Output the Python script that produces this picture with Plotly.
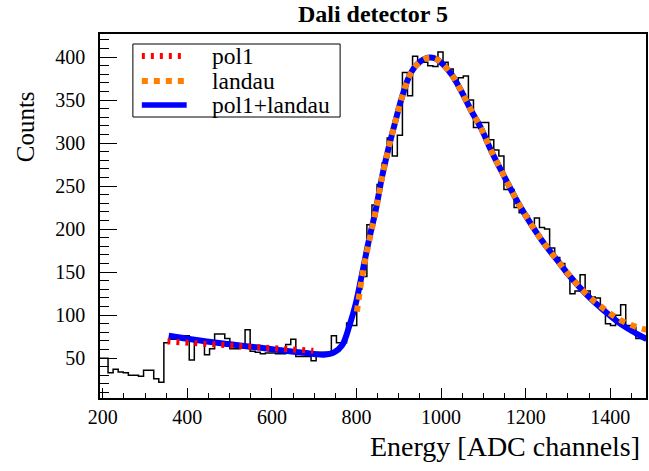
import numpy as np
import plotly.graph_objects as go

# ---------------- data ----------------
# histogram: counts per bin (bin width 12 ADC channels, first bin starts at 188.6)
bin_start = 188.6
bin_width = 12.0
counts = [
    50, 50, 33, 37, 34, 33, 30, 30, 29, 36,
    36, 26, 22, 68, 72, 72, 76, 76, 48, 70,
    70, 54, 61, 78, 78, 73, 61, 61, 62, 83,
    58, 57, 55, 56, 56, 55, 55, 66, 72, 52,
    52, 52, 47, 57, 57, 57, 76, 68, 68, 91,
    88, 130, 145, 205, 228, 252, 277, 306, 285, 309,
    382, 355, 401, 394, 394, 390, 389, 406, 394, 386,
    372, 376, 378, 350, 318, 324, 324, 304, 292, 285,
    246, 246, 225, 219, 215, 205, 213, 202, 200, 178,
    167, 160, 148, 125, 128, 147, 128, 121, 120, 108,
    90, 88, 100, 112, 88, 86, 73, 73,
]

# fit curves
pol1_x = [353, 698]
pol1_y = [69.5, 58.6]

landau_x = [801, 813, 829, 845, 860, 876, 892, 907, 923, 939, 962, 982, 1001,
            1025, 1048, 1072, 1096, 1119, 1151, 1182, 1213, 1245, 1276, 1307,
            1347, 1386, 1425, 1464, 1486]
landau_y = [104, 144, 184, 220, 259, 294.5, 325.4, 352.5, 375.7, 389.2, 398.1,
            399, 393.2, 379.6, 360.2, 337, 315.8, 290.6, 259.7, 230.7, 205.6,
            182.4, 163, 144, 123, 107, 94, 86, 83]

total_x = [356, 417, 496, 574, 652, 700, 723, 747, 766, 784, 798, 813, 829, 845,
           860, 876, 892, 907, 923, 939, 962, 982, 1001, 1025, 1048, 1072, 1096,
           1119, 1151, 1182, 1213, 1245, 1276, 1307, 1347, 1386, 1425, 1464, 1486]
total_y = [76, 71.3, 66.4, 62, 57.4, 54.8, 54, 56.7, 65, 89, 112.8, 147.6, 186.2,
           221, 259.7, 294.5, 325.4, 352.5, 375.7, 389.2, 398.1, 399, 393.2,
           379.6, 360.2, 337, 315.8, 290.6, 259.7, 230.7, 205.6, 182.4, 163,
           143.7, 122.4, 105, 89.6, 78, 72.2]

x_ticks = [200, 400, 600, 800, 1000, 1200, 1400]
y_ticks = [50, 100, 150, 200, 250, 300, 350, 400]

title_text = "Dali detector 5"
x_title = "Energy [ADC channels]"
y_title = "Counts"
legend_labels = ["pol1", "landau", "pol1+landau"]

# ---------------- styles ----------------
FONT = "Liberation Serif"
RED = "#ff0000"
ORANGE = "#ff8000"
BLUE = "#0000ff"
RED_DASH = "3px,6px"
ORANGE_DASH = "6px,6px"

# step outline of the histogram
edges = bin_start + bin_width * np.arange(len(counts) + 1)
hx = list(edges)
hy = list(counts) + [counts[-1]]

fig = go.Figure()
fig.add_trace(go.Scatter(x=hx, y=hy, mode="lines", line=dict(color="black", width=1.5, shape="hv"),
                         showlegend=False, hoverinfo="skip"))
fig.add_trace(go.Scatter(x=total_x, y=total_y, mode="lines",
                         line=dict(color=BLUE, width=6, shape="spline"), showlegend=False))
fig.add_trace(go.Scatter(x=pol1_x, y=pol1_y, mode="lines",
                         line=dict(color=RED, width=6, dash=RED_DASH), showlegend=False))
fig.add_trace(go.Scatter(x=landau_x, y=landau_y, mode="lines",
                         line=dict(color=ORANGE, width=6, dash=ORANGE_DASH, shape="spline"),
                         showlegend=False))

# ---------------- layout ----------------
L, R, T, B = 100, 1, 34, 73
W, H = 649, 471
pw = W - L - R
ph = H - T - B

def px_x(p):
    return (p - L) / pw

def px_y(p):
    return (H - B - p) / ph

fig.update_layout(
    width=W, height=H,
    margin=dict(l=L, r=R, t=T, b=B),
    paper_bgcolor="white", plot_bgcolor="white",
    font=dict(family=FONT, color="black", size=18),
    title=dict(text="<b>" + title_text + "</b>", x=0.5, xref="paper",
               y=1 - 14 / H, yref="container", xanchor="center", yanchor="middle",
               font=dict(family=FONT, size=24, color="black")),
    xaxis=dict(range=[193.6, 1484.5], showgrid=False, zeroline=False,
               showline=True, linecolor="black", linewidth=1.5, mirror=True,
               tickmode="array", tickvals=x_ticks, ticks="inside", ticklen=10,
               tickwidth=1.2, tickcolor="black",
               minor=dict(dtick=50, tick0=200, ticks="inside", ticklen=5, tickwidth=1, tickcolor="black"),
               tickfont=dict(family=FONT, size=20), ticklabelstandoff=0),
    yaxis=dict(range=[3.7, 426.8], showgrid=False, zeroline=False,
               showline=True, linecolor="black", linewidth=1.5, mirror=True,
               tickmode="array", tickvals=y_ticks, ticks="inside", ticklen=17,
               tickwidth=1.2, tickcolor="black",
               minor=dict(dtick=10, tick0=0, ticks="inside", ticklen=9, tickwidth=1, tickcolor="black"),
               tickfont=dict(family=FONT, size=20), ticklabelstandoff=9),
)

annotations = [
    dict(text=x_title, x=px_x(644), y=px_y(446), xref="paper", yref="paper",
         xanchor="right", yanchor="middle", showarrow=False,
         font=dict(family=FONT, size=28)),
    dict(text=y_title, x=px_x(25), y=px_y(127), xref="paper", yref="paper",
         xanchor="center", yanchor="middle", textangle=-90, showarrow=False,
         font=dict(family=FONT, size=25)),
]

# manual legend
shapes = [dict(type="rect", xref="paper", yref="paper",
               x0=px_x(133), x1=px_x(341), y0=px_y(117), y1=px_y(44),
               line=dict(color="black", width=1), fillcolor="white", layer="above")]
rows = [56, 81, 105]
styles = [(RED, RED_DASH, 6), (ORANGE, ORANGE_DASH, 6), (BLUE, "solid", 5.5)]
for ry, (c, d, w), lab in zip(rows, styles, legend_labels):
    shapes.append(dict(type="line", xref="paper", yref="paper",
                       x0=px_x(142), x1=px_x(187), y0=px_y(ry), y1=px_y(ry),
                       line=dict(color=c, width=w, dash=d), layer="above"))
    annotations.append(dict(text=lab, x=px_x(210), y=px_y(ry), xref="paper", yref="paper",
                            xanchor="left", yanchor="middle", showarrow=False,
                            font=dict(family=FONT, size=23.5)))

fig.update_layout(annotations=annotations, shapes=shapes)
fig.write_html("out.html")
